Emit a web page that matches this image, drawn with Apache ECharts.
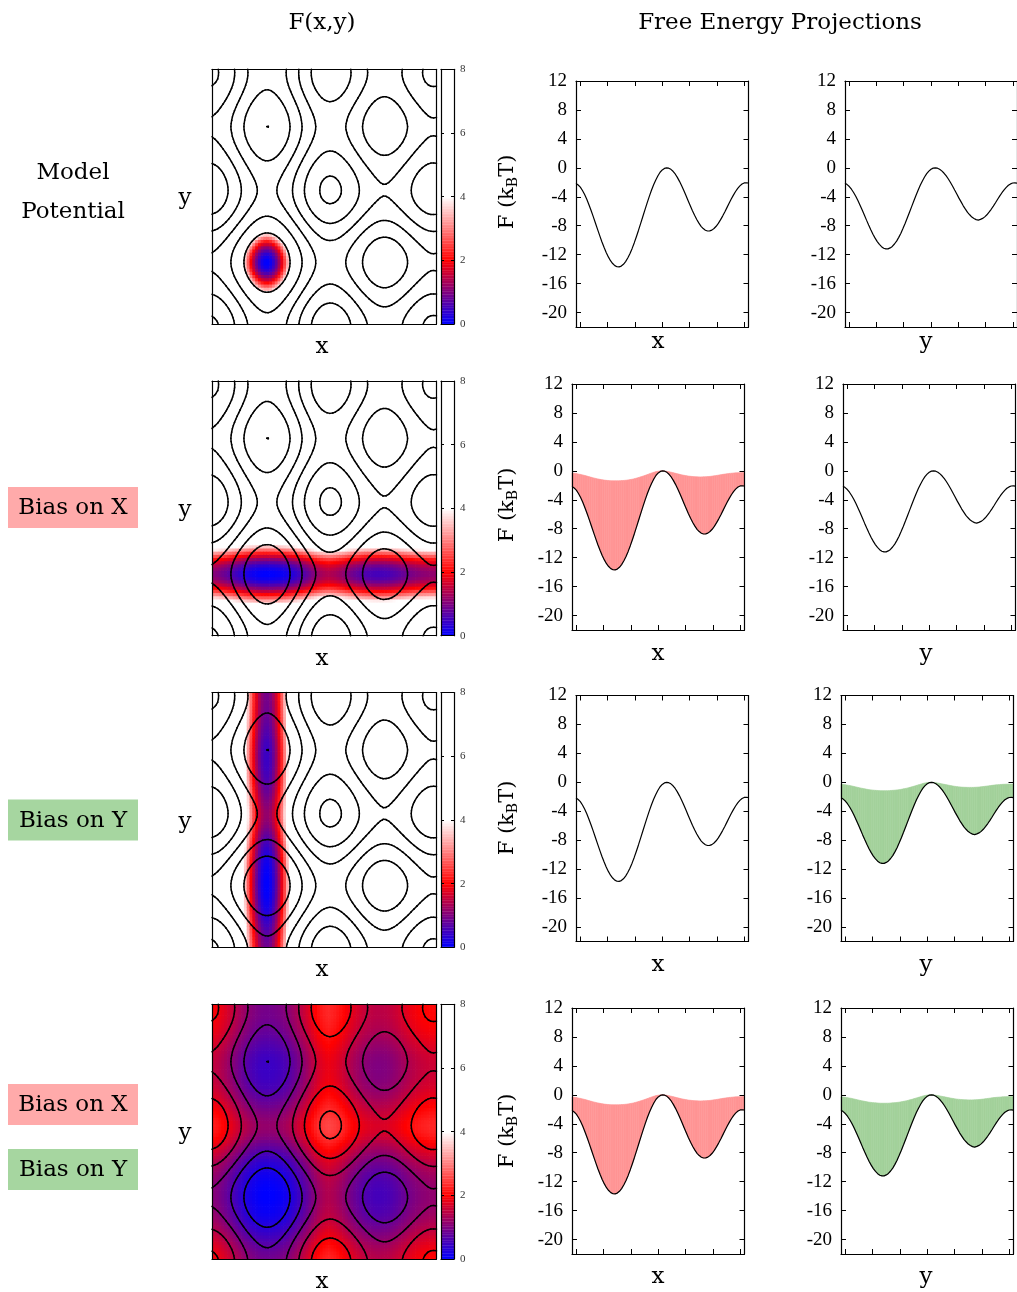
<!DOCTYPE html>
<html><head><meta charset="utf-8">
<script src="https://cdn.jsdelivr.net/npm/echarts@6/dist/echarts.min.js"></script>
<style>html,body{margin:0;padding:0;background:#fff}#c{width:1017px;height:1292px}</style>
</head><body><div id="c"></div>
<script>
// ---------- data ----------
const xTicks = [-3, -2, -1, 0, 1, 2, 3];
const fTicks = [-20, -16, -12, -8, -4, 0, 4, 8, 12];
const cbTicks = [0, 2, 4, 6, 8];
const contourLevels = [4, 8, 12, 16, 20, 24]; // kT above the global minimum of F(x,y)
// free energy projections, 81 samples over [-pi, pi]
const Fx = [-2.15,-2.38,-2.67,-3.13,-3.69,-4.35,-5.10,-5.90,-6.75,-7.62,-8.50,-9.37,-10.21,-10.98,-11.70,-12.31,-12.84,-13.23,-13.52,-13.67,
  -13.69,-13.58,-13.33,-12.96,-12.47,-11.87,-11.17,-10.38,-9.52,-8.62,-7.68,-6.73,-5.77,-4.84,-3.95,-3.10,-2.34,-1.67,-1.10,-0.61,
  -0.29,-0.08,0.00,-0.05,-0.21,-0.48,-0.85,-1.32,-1.87,-2.48,-3.13,-3.83,-4.54,-5.24,-5.93,-6.56,-7.14,-7.65,-8.08,-8.40,
  -8.62,-8.73,-8.72,-8.61,-8.39,-8.08,-7.68,-7.20,-6.67,-6.10,-5.50,-4.90,-4.32,-3.77,-3.27,-2.84,-2.50,-2.24,-2.09,-2.06,-2.10];
const Fy = [-2.14,-2.32,-2.59,-2.96,-3.41,-3.94,-4.53,-5.17,-5.84,-6.53,-7.23,-7.91,-8.56,-9.17,-9.72,-10.20,-10.59,-10.90,-11.11,-11.21,
  -11.20,-11.07,-10.87,-10.53,-10.13,-9.61,-9.03,-8.36,-7.67,-6.91,-6.14,-5.36,-4.58,-3.82,-3.09,-2.42,-1.81,-1.27,-0.81,-0.46,
  -0.20,-0.04,0.00,-0.05,-0.19,-0.42,-0.72,-1.09,-1.51,-2.00,-2.51,-3.07,-3.62,-4.19,-4.71,-5.25,-5.71,-6.16,-6.49,-6.81,
  -7.00,-7.16,-7.22,-7.13,-6.99,-6.78,-6.49,-6.13,-5.73,-5.29,-4.82,-4.34,-3.88,-3.44,-3.04,-2.70,-2.41,-2.22,-2.10,-2.07,-2.12];
// projections after adding the bias
const FxBiased = [-0.30,-0.34,-0.38,-0.44,-0.50,-0.57,-0.65,-0.73,-0.82,-0.90,-0.98,-1.05,-1.12,-1.18,-1.24,-1.28,-1.32,-1.35,-1.37,-1.38,
  -1.38,-1.38,-1.37,-1.35,-1.33,-1.30,-1.26,-1.21,-1.15,-1.08,-1.00,-0.91,-0.82,-0.72,-0.62,-0.51,-0.40,-0.29,-0.19,-0.11,
  -0.05,-0.01,0.00,-0.03,-0.07,-0.13,-0.19,-0.26,-0.34,-0.42,-0.49,-0.56,-0.62,-0.67,-0.72,-0.76,-0.79,-0.81,-0.83,-0.84,
  -0.84,-0.83,-0.82,-0.80,-0.77,-0.73,-0.69,-0.64,-0.59,-0.54,-0.49,-0.44,-0.40,-0.36,-0.33,-0.30,-0.28,-0.26,-0.25,-0.24,-0.24];
const FyBiased = [-0.27,-0.30,-0.34,-0.39,-0.44,-0.50,-0.57,-0.64,-0.71,-0.78,-0.84,-0.90,-0.96,-1.01,-1.05,-1.08,-1.11,-1.13,-1.15,-1.16,
  -1.16,-1.16,-1.15,-1.13,-1.11,-1.08,-1.05,-1.01,-0.96,-0.90,-0.84,-0.77,-0.69,-0.61,-0.52,-0.43,-0.34,-0.25,-0.16,-0.09,
  -0.04,-0.01,0.00,-0.02,-0.06,-0.11,-0.16,-0.22,-0.28,-0.34,-0.40,-0.46,-0.51,-0.56,-0.60,-0.63,-0.66,-0.68,-0.69,-0.70,
  -0.70,-0.70,-0.69,-0.67,-0.65,-0.62,-0.58,-0.54,-0.50,-0.46,-0.42,-0.38,-0.35,-0.32,-0.30,-0.28,-0.26,-0.25,-0.24,-0.24,-0.24];
const rows = [
  {biasX: false, biasY: false},
  {biasX: true,  biasY: false},
  {biasX: false, biasY: true},
  {biasX: true,  biasY: true}
];

// ---------- layout ----------
const PI = Math.PI;
const FONT = '"DejaVu Serif", serif';
const TICKFONT = '"Liberation Serif", serif';
const heatTop = [69.3, 381, 692.6, 1004.3];
const heatLeft = 212, heatW = 224.5, heatH = 254.7;
const cbLeft = 441, cbW = 13;
const plotTop = [81, 384, 695.5, 1008], plotH = 246;
const p3Left = [576, 572, 576, 572], p4Left = [845, 843, 841, 841], plotW = 172.5;
const axisNameX = [658, 926], axisNameY0 = 342, rowStep = 311.67;
const PINK_BG = '#ffaaaa', GREEN_BG = '#a6d6a0';
const PINK_FILL = '#ff9595', GREEN_FILL = '#a3d19b';
const HEAT_COLORS = ['#0000ff', '#ff0000', '#ffffff', '#ffffff', '#ffffff'];

const sx = Fx.map((_, i) => -PI + i * 2 * PI / (Fx.length - 1));
const sy = Fy.map((_, j) => -PI + j * 2 * PI / (Fy.length - 1));
const dx = sx[1] - sx[0], dy = sy[1] - sy[0];
const mn = a => Math.min.apply(null, a);

// contour (marching squares) of the unbiased surface
const fmin = mn(Fx) + mn(Fy);
function contourSegs() {
  const segs = [];
  const v = (i, j) => Fx[i] + Fy[j] - fmin;
  for (const L of contourLevels) {
    for (let i = 0; i < sx.length - 1; i++) for (let j = 0; j < sy.length - 1; j++) {
      const c = [[sx[i], sy[j], v(i, j)], [sx[i+1], sy[j], v(i+1, j)], [sx[i+1], sy[j+1], v(i+1, j+1)], [sx[i], sy[j+1], v(i, j+1)]];
      const cr = [];
      for (let e = 0; e < 4; e++) {
        const a = c[e], b = c[(e + 1) % 4];
        if ((a[2] < L) !== (b[2] < L)) {
          const t = (L - a[2]) / (b[2] - a[2]);
          cr.push([a[0] + t * (b[0] - a[0]), a[1] + t * (b[1] - a[1])]);
        } else cr.push(null);
      }
      const p = cr.filter(q => q);
      if (p.length === 2) segs.push([p[0][0], p[0][1], p[1][0], p[1][1]]);
      else if (p.length === 4) {
        const center = (c[0][2] + c[1][2] + c[2][2] + c[3][2]) / 4;
        if ((center < L) === (c[0][2] < L)) {
          segs.push([cr[0][0], cr[0][1], cr[1][0], cr[1][1]]);
          segs.push([cr[2][0], cr[2][1], cr[3][0], cr[3][1]]);
        } else {
          segs.push([cr[3][0], cr[3][1], cr[0][0], cr[0][1]]);
          segs.push([cr[1][0], cr[1][1], cr[2][0], cr[2][1]]);
        }
      }
    }
  }
  return segs;
}
const cSegs = contourSegs();

const grids = [], xAxes = [], yAxes = [], series = [], graphics = [];
const visualSeries = [];

function addGrid(left, top, w, h) {
  grids.push({left: left, top: top, width: w, height: h, containLabel: false});
  return grids.length - 1;
}
function frameAxes(g, xmin, xmax, ymin, ymax, opt) {
  opt = opt || {};
  const line = {show: true, onZero: false, lineStyle: {color: '#000', width: 1.2}};
  const xi = xAxes.length;
  ['bottom', 'top'].forEach((pos) => {
    xAxes.push({gridIndex: g, type: 'value', min: xmin, max: xmax, position: pos, z: 10,
      axisLine: line, splitLine: {show: false},
      axisTick: opt.xTicks ? {show: true, inside: true, length: 5, customValues: opt.xTicks, lineStyle: {color: '#000'}} : {show: false},
      axisLabel: {show: false}});
  });
  const yi = yAxes.length;
  ['left', 'right'].forEach((pos) => {
    const lab = (opt.yLabelSide === pos);
    yAxes.push({gridIndex: g, type: 'value', min: ymin, max: ymax, position: pos, z: 10,
      axisLine: line, splitLine: {show: false},
      axisTick: opt.yTicks ? {show: true, inside: true, length: opt.tickLen || 5, customValues: opt.yTicks, lineStyle: {color: '#000'}} : {show: false},
      axisLabel: lab ? {show: true, customValues: opt.yTicks, fontFamily: TICKFONT, fontSize: opt.labelSize || 19, color: opt.labelColor || '#000', margin: opt.labelMargin || 9} : {show: false}});
  });
  return {x: xi, y: yi};
}
function text(x, y, str, size, extra) {
  graphics.push(Object.assign({type: 'text', x: x, y: y, z: 20,
    style: {text: str, fontFamily: FONT, fontSize: size, fill: '#000', align: 'center', verticalAlign: 'middle'}}, extra || {}));
}

text(322, 23, 'F(x,y)', 23);
text(780, 23, 'Free Energy Projections', 23);
text(73, 173, 'Model', 23);
text(73, 212, 'Potential', 23);

function labelBox(cy, str, bg) {
  graphics.push({type: 'rect', shape: {x: 8, y: cy - 20.5, width: 130, height: 41}, style: {fill: bg}, z: 15});
  text(73, cy + 1, str, 23);
}
labelBox(507.5, 'Bias on X', PINK_BG);
labelBox(820, 'Bias on Y', GREEN_BG);
labelBox(1104.5, 'Bias on X', PINK_BG);
labelBox(1169.5, 'Bias on Y', GREEN_BG);

const cbData = [];
for (let v = 0; v <= 8.0001; v += 0.05) cbData.push([0.5, v, v]);

function clipTo(rect, cs) {
  return echarts.graphic.clipRectByRect(rect, {x: cs.x, y: cs.y, width: cs.width, height: cs.height});
}
const noProg = {progressive: 0, progressiveThreshold: 1e9, large: false, animation: false};

rows.forEach((r, k) => {
  const hx = r.biasX ? FxBiased : Fx;
  const hy = r.biasY ? FyBiased : Fy;
  const hmin = mn(hx) + mn(hy);
  const heat = [];
  for (let i = 0; i < sx.length; i++) for (let j = 0; j < sy.length; j++)
    heat.push([sx[i], sy[j], Math.min(8, hx[i] + hy[j] - hmin)]);

  // heat map panel
  const g = addGrid(heatLeft, heatTop[k], heatW, heatH);
  const ax = frameAxes(g, -PI, PI, -PI, PI);
  visualSeries.push(series.length);
  series.push(Object.assign({type: 'custom', xAxisIndex: ax.x, yAxisIndex: ax.y, data: heat, z: 1,
    encode: {x: 0, y: 1},
    renderItem: function (params, api) {
      const c = api.coord([api.value(0), api.value(1)]);
      const s = api.size([dx, dy]);
      const rect = clipTo({x: c[0] - s[0] / 2 - 0.35, y: c[1] - s[1] / 2 - 0.35, width: s[0] + 0.7, height: s[1] + 0.7}, params.coordSys);
      return rect && {type: 'rect', shape: rect, style: {fill: api.visual('color')}};
    }}, noProg));
  series.push(Object.assign({type: 'custom', xAxisIndex: ax.x, yAxisIndex: ax.y, data: cSegs, z: 3,
    dimensions: ['x1', 'y1', 'x2', 'y2'], encode: {x: [0, 2], y: [1, 3]},
    renderItem: function (params, api) {
      const a = api.coord([api.value(0), api.value(1)]);
      const b = api.coord([api.value(2), api.value(3)]);
      return {type: 'line', shape: {x1: a[0], y1: a[1], x2: b[0], y2: b[1]},
        style: {stroke: '#000', lineWidth: 1.5, lineCap: 'round'}};
    }}, noProg));
  text(322, heatTop[k] + heatH + 23, 'x', 23);
  text(185, heatTop[k] + 129, 'y', 23);

  // colour bar
  const gc = addGrid(cbLeft, heatTop[k], cbW, heatH);
  const axc = frameAxes(gc, 0, 1, 0, 8, {yTicks: cbTicks, yLabelSide: 'right', labelSize: 11, labelMargin: 6, tickLen: 3, labelColor: '#333'});
  visualSeries.push(series.length);
  series.push(Object.assign({type: 'custom', xAxisIndex: axc.x, yAxisIndex: axc.y, data: cbData, z: 1,
    encode: {x: 0, y: 1},
    renderItem: function (params, api) {
      const a = api.coord([0, api.value(1) + 0.03]);
      const b = api.coord([1, api.value(1) - 0.03]);
      const rect = clipTo({x: a[0], y: a[1], width: b[0] - a[0], height: b[1] - a[1]}, params.coordSys);
      return rect && {type: 'rect', shape: rect, style: {fill: api.visual('color')}};
    }}, noProg));

  // projections
  [[Fx, FxBiased, r.biasX, p3Left[k], 'x', PINK_FILL], [Fy, FyBiased, r.biasY, p4Left[k], 'y', GREEN_FILL]].forEach((d, c) => {
    const base = d[0], biased = d[1], shaded = d[2], left = d[3], fill = d[5];
    const gp = addGrid(left, plotTop[k], plotW, plotH);
    const axp = frameAxes(gp, -PI, PI, -22, 12, {xTicks: xTicks, yTicks: fTicks, yLabelSide: 'left'});
    if (shaded) {
      const quads = [];
      for (let i = 0; i < base.length - 1; i++)
        quads.push([sx[i], base[i], biased[i], sx[i+1], base[i+1], biased[i+1]]);
      series.push(Object.assign({type: 'custom', xAxisIndex: axp.x, yAxisIndex: axp.y, data: quads, z: 2,
        dimensions: ['x0', 'b0', 't0', 'x1', 'b1', 't1'], encode: {x: [0, 3], y: [1, 2, 4, 5]},
        renderItem: function (params, api) {
          const p = [api.coord([api.value(0), api.value(1)]), api.coord([api.value(3), api.value(4)]),
                     api.coord([api.value(3), api.value(5)]), api.coord([api.value(0), api.value(2)])];
          return {type: 'polygon', shape: {points: p}, style: {fill: fill, stroke: fill, lineWidth: 0.6}};
        }}, noProg));
    }
    series.push(Object.assign({type: 'line', xAxisIndex: axp.x, yAxisIndex: axp.y, z: 4,
      data: base.map((v, i) => [sx[i], v]), smooth: false, showSymbol: false, symbol: 'none',
      lineStyle: {color: '#000', width: 1.2}, silent: true}, noProg));
    text(axisNameX[c], axisNameY0 + rowStep * k, d[4], 23);
    if (c === 0) {
      graphics.push({type: 'text', x: 508, y: 192 + 313 * k, rotation: PI / 2, z: 20,
        style: {text: '{a|F (k}{s|B}{a|T)}', align: 'center', verticalAlign: 'middle',
          rich: {a: {fontFamily: FONT, fontSize: 21, fill: '#000', color: '#000', lineHeight: 30, verticalAlign: 'middle'},
                 s: {fontFamily: FONT, fontSize: 14, fill: '#000', color: '#000', lineHeight: 30, verticalAlign: 'bottom', padding: [0, 0, 3, 0]}}}});
    }
  });
});

const chart = echarts.init(document.getElementById('c'), null, {renderer: 'canvas'});
chart.setOption({
  animation: false,
  backgroundColor: '#fff',
  grid: grids, xAxis: xAxes, yAxis: yAxes, series: series,
  visualMap: [{type: 'continuous', show: false, min: 0, max: 8, dimension: 2, seriesIndex: visualSeries,
    inRange: {color: HEAT_COLORS}}],
  graphic: graphics
});
</script></body></html>
